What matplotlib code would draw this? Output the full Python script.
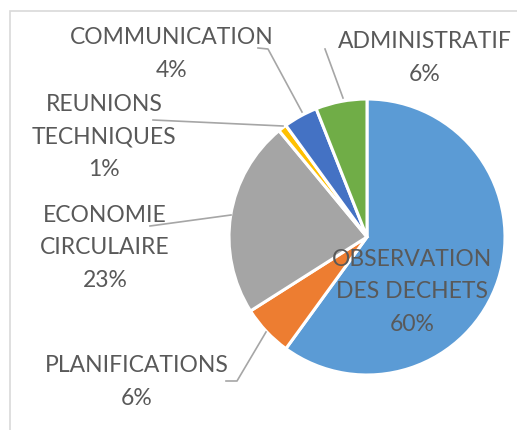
import matplotlib
matplotlib.use("Agg")
import matplotlib.pyplot as plt
from matplotlib.patches import Rectangle

categories = ["OBSERVATION\nDES DECHETS", "PLANIFICATIONS", "ECONOMIE\nCIRCULAIRE",
              "REUNIONS\nTECHNIQUES", "COMMUNICATION", "ADMINISTRATIF"]
values = [60, 6, 23, 1, 4, 6]
colors = ["#5b9bd5", "#ed7d31", "#a5a5a5", "#ffc000", "#4472c4", "#70ad47"]

W, H = 517, 431
fig = plt.figure(figsize=(W / 100, H / 100), dpi=100)
ax = fig.add_axes([0, 0, 1, 1])

# chart frame
fig.patches.append(Rectangle((10 / W, -0.1), 1.2, (H - 12) / H + 0.1,
                             transform=fig.transFigure, fill=False,
                             edgecolor="#d9d9d9", linewidth=1.2))

cx, cy, r = 367, H - 238, 138
ax.pie(values, colors=colors, startangle=90, counterclock=False,
       center=(cx, cy), radius=r, frame=True,
       wedgeprops=dict(edgecolor="white", linewidth=2.2))
ax.set_xlim(0, W)
ax.set_ylim(0, H)
ax.set_aspect("equal")
ax.axis("off")

total = sum(values)
# label positions (pixel coords of text centers, top-down)
label_pos = [(412, 292), (137, 382), (105, 248), (104, 137), (172, 54), (425, 58)]
leaders = [
    None,
    [(226, 382), (237, 382), (266, 333)],
    [(150, 227), (231, 216)],
    [(153, 121), (283, 127)],
    [(258, 49), (268, 50), (302, 113)],
    [(325, 50), (343, 99)],
]
txtcol = "#595959"
for cat, v, (px, py), ld in zip(categories, values, label_pos, leaders):
    if ld is not None:
        xs = [p[0] for p in ld]
        ys = [H - p[1] for p in ld]
        ax.plot(xs, ys, color="#a6a6a6", linewidth=1.2, zorder=1)
    pct = f"{round(v / total * 100)}%"
    ax.text(px, H - py, cat + "\n" + pct, ha="center", va="center",
            fontsize=16.5, family="Lato", color=txtcol, linespacing=1.68, zorder=5)

fig.savefig("out.png", dpi=100)
